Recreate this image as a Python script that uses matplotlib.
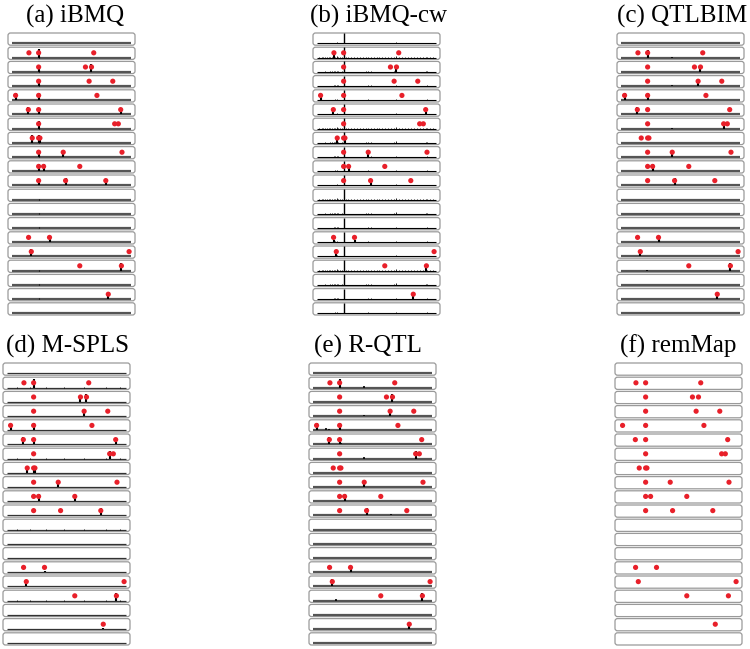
import matplotlib
matplotlib.use("Agg")
import matplotlib.pyplot as plt
from matplotlib.patches import FancyBboxPatch

# true QTL positions (0-100 along the genome) per trait row; rows not listed have none
qtl_rows = [1, 2, 3, 4, 5, 6, 7, 8, 9, 10, 14, 15, 16, 18]
qtl_pos = [
    [14.0, 22.2, 68.8],
    [22.2, 61.8, 66.9],
    [22.2, 64.9, 84.9],
    [2.7, 22.2, 71.5],
    [13.5, 22.2, 91.6],
    [22.2, 86.5, 89.6],
    [16.8, 22.2, 23.3],
    [22.2, 43.0, 92.7],
    [22.2, 26.4, 57.0],
    [22.2, 45.0, 79.0],
    [13.7, 31.4],
    [16.0, 98.7],
    [57.0, 92.2],
    [81.1],
]
n_traits = 20

# signal height at each true QTL, per method (1 = just above the red dot)
ibmq_h = [[0, 1.2, 0], [0.5, 0, 1.0], [1.0, 0, 0], [1.0, 1.0, 0], [1.0, 0.4, 0.4],
          [1.0, 0, 0], [1.0, 1.0, 0.5], [0.5, 0.4, 0], [1.0, 1.0, 0], [0.4, 1.0, 0.4],
          [0, 0.4], [1.0, 0], [0, 1.0], [0.4]]
ibmqcw_h = [[0.3, 0, 0], [0, 0, 0.8], [0, 0, 0], [0.8, 0, 0], [0.8, 0, 0.3],
            [0, 0, 0], [0.8, 0, 0.5], [0, 0.5, 0], [0, 0.8, 0], [0, 0.8, 0],
            [0.3, 0.3], [0.8, 0], [0, 0.6], [0.5]]
qtlbim_h = [[0, 1.0, 0], [0, 0, 0.5], [0, 0.8, 0], [1.0, 1.0, 0], [1.0, 0, 0],
            [0, 0.8, 0], [0, 0, 0], [0, 0.5, 0], [0, 1.0, 0], [0, 1.0, 0],
            [0, 0.4], [0.9, 0], [0, 1.0], [0.4]]
mspls_h = [[0, 1.2, 0], [0, 0.8, 1.0], [0, 1.0, 0], [0.4, 1.0, 0], [1.0, 0.6, 0.3],
           [0, 1.0, 0], [0.4, 0.4, 0.4], [0, 0.8, 0], [0, 1.0, 1.0], [0, 0, 1.0],
           [0, 0.2], [0.5, 0], [0, 1.0], [0.2]]
rqtl_h = [[0, 1.2, 0], [0, 0, 1.0], [0, 1.0, 0], [1.0, 1.0, 0], [1.0, 0.3, 0],
          [0, 1.0, 0], [0, 0, 0], [0, 1.0, 0], [0, 1.0, 0], [0, 1.0, 0],
          [0, 0.8], [1.0, 0], [0, 1.0], [0.5]]
remmap_h = [[0] * len(p) for p in qtl_pos]

# off-target signals (row, position, height)
qtlbim_extra = [(1, 43.0, 0.1), (3, 43.0, 0.1), (4, 13.9, 0.1), (6, 43.0, 0.1),
                (10, 66.0, 0.1), (16, 22.0, 0.1)]
rqtl_extra = [(1, 43.0, 0.25), (3, 43.0, 0.2), (4, 11.0, 0.25), (4, 13.0, 0.15),
              (5, 23.5, 0.15), (6, 43.0, 0.2), (10, 66.0, 0.2), (15, 7.0, 0.08),
              (16, 19.0, 0.25)]

# signal present in every row
ibmq_bg_pos = [22.2]
ibmq_bg_h = [0.08]
cw_bg_pos = [1.5, 3.5, 5.0, 6.5, 8.0, 9.5, 11.0, 12.5, 13.8, 14.8, 16.2, 17.5, 19.0,
             20.5, 22.2, 24.0, 26.0, 28.5, 31.0, 33.5, 36.0, 38.5, 41.0, 43.0, 45.0,
             47.5, 50.0, 52.5, 55.0, 57.5, 60.0, 62.5, 65.0, 66.8, 69.0, 71.5, 74.0,
             76.5, 79.0, 81.5, 84.0, 86.5, 89.0, 91.5, 93.0, 95.5, 98.0]
cw_bg_h = [0.04, 0.05, 0.03, 0.06, 0.04, 0.04, 0.06, 0.06, 0.1, 0.13, 0.16, 0.08, 0.05,
           0.06, 1.4, 0.05, 0.04, 0.05, 0.03, 0.05, 0.04, 0.05, 0.06, 0.13, 0.08,
           0.04, 0.03, 0.05, 0.04, 0.05, 0.03, 0.05, 0.06, 0.19, 0.05, 0.04, 0.03,
           0.05, 0.04, 0.05, 0.03, 0.05, 0.04, 0.06, 0.13, 0.04, 0.03]
msp_bg_pos = [8.0, 19.0, 33.0, 48.0, 65.0, 83.0, 95.0]
msp_bg_h = [0.04, 0.04, 0.03, 0.04, 0.03, 0.04, 0.03]

panels = [
    ("(a) iBMQ", ibmq_h, [], ibmq_bg_pos, ibmq_bg_h, 75, 16, 8, 33, "#555555", 1.6),
    ("(b) iBMQ-cw", ibmqcw_h, [], cw_bg_pos, cw_bg_h, 378, 16, 313, 33, "black", 0.8),
    ("(c) QTLBIM", qtlbim_h, qtlbim_extra, [], [], 682, 16, 617, 33, "#555555", 1.6),
    ("(d) M-SPLS", mspls_h, [], msp_bg_pos, msp_bg_h, 68, 346, 3, 363, "#333333", 0.9),
    ("(e) R-QTL", rqtl_h, rqtl_extra, [], [], 368, 346, 309, 363, "#555555", 1.6),
    ("(f) remMap", remmap_h, [], [], [], 678, 346, 615, 363, None, 0),
]

W, H = 750, 649
strip_w, strip_h, pitch = 127, 12.2, 14.2
base_y, dot_y, unit = 0.14, 0.54, 0.62

fig = plt.figure(figsize=(W / 100, H / 100), dpi=100)

for title, heights, extra, bg_pos, bg_h, tx, ty, x0, y0, base_col, base_lw in panels:
    fig.text(tx / W, 1 - ty / H, title, ha="center", va="center",
             fontsize=18, family="Liberation Serif")
    for i in range(n_traits):
        top = y0 + i * pitch
        ax = fig.add_axes([x0 / W, 1 - (top + strip_h) / H, strip_w / W, strip_h / H])
        ax.set_xlim(-3.7, 103.7)
        ax.set_ylim(0, 1)
        ax.axis("off")
        box = FancyBboxPatch((0, 0), 1, 1, boxstyle="round,pad=0,rounding_size=0.02",
                             mutation_aspect=strip_w / strip_h, transform=ax.transAxes,
                             fill=False, edgecolor="#9a9a9a", lw=0.9, clip_on=False)
        ax.add_patch(box)
        if base_col is not None:
            ax.plot([0, 100], [base_y, base_y], color=base_col, lw=base_lw,
                    solid_capstyle="butt", zorder=1)
        if bg_pos:
            lw = 0.6 if len(bg_pos) > 5 else 0.8
            for p, h in zip(bg_pos, bg_h):
                ax.vlines(p, base_y, base_y + unit * h, color="black", lw=lw if h < 1 else 1.0,
                          zorder=2, clip_on=False)
        for r, p, h in extra:
            if r == i:
                ax.vlines(p, base_y, base_y + unit * h, color="black", lw=1.2, zorder=2)
        if i in qtl_rows:
            k = qtl_rows.index(i)
            for p, h in zip(qtl_pos[k], heights[k]):
                if h > 0:
                    ax.vlines(p, base_y, base_y + unit * h, color="black", lw=1.5, zorder=2)
            ax.scatter(qtl_pos[k], [dot_y] * len(qtl_pos[k]), s=14, color="#e8202a",
                       edgecolors="none", zorder=3, clip_on=False)

fig.savefig("out.png", dpi=100)
